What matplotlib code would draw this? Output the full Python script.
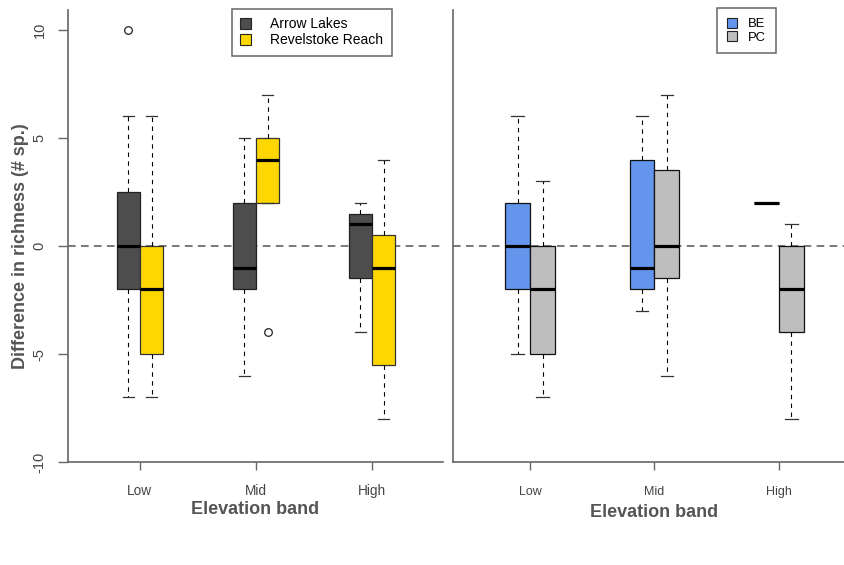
import matplotlib
matplotlib.use("Agg")
import matplotlib.pyplot as plt
from matplotlib.patches import Patch

plt.rcParams['font.family'] = ['Liberation Sans', 'DejaVu Sans']

bands = ["Low", "Mid", "High"]

# five-number summaries per elevation band: whisker low, Q1, median, Q3, whisker high
arrow_lo  = [-7, -6, -4]
arrow_q1  = [-2, -2, -1.5]
arrow_med = [0, -1, 1]
arrow_q3  = [2.5, 2, 1.5]
arrow_hi  = [6, 5, 2]
arrow_out = [[10], [], []]

revel_lo  = [-7, 2, -8]
revel_q1  = [-5, 2, -5.5]
revel_med = [-2, 4, -1]
revel_q3  = [0, 5, 0.5]
revel_hi  = [6, 7, 4]
revel_out = [[], [-4], []]

be_lo  = [-5, -3, 2]
be_q1  = [-2, -2, 2]
be_med = [0, -1, 2]
be_q3  = [2, 4, 2]
be_hi  = [6, 6, 2]
be_out = [[], [], []]

pc_lo  = [-7, -6, -8]
pc_q1  = [-5, -1.5, -4]
pc_med = [-2, 0, -2]
pc_q3  = [0, 3.5, 0]
pc_hi  = [3, 7, 1]
pc_out = [[], [], []]


def stats(lo, q1, med, q3, hi, out):
    return [dict(whislo=lo[i], q1=q1[i], med=med[i], q3=q3[i], whishi=hi[i],
                 fliers=out[i]) for i in range(len(med))]


def draw(ax, st, pos, fill, edge):
    ax.bxp(st, positions=pos, widths=0.2, patch_artist=True, manage_ticks=False,
           boxprops=dict(facecolor=fill, edgecolor=edge, linewidth=0.9),
           medianprops=dict(color="black", linewidth=2.3, solid_capstyle="butt"),
           whiskerprops=dict(color="black", linewidth=0.8, linestyle=(0, (4, 4))),
           capprops=dict(color="#333333", linewidth=0.9),
           capwidths=0.1,
           flierprops=dict(marker="o", markerfacecolor="none", markeredgecolor="#222222",
                           markersize=5.5, markeredgewidth=0.9))


fig = plt.figure(figsize=(8.45, 5.65), dpi=100)
ax1 = fig.add_axes([68 / 845, 1 - 462 / 565, (443 - 68) / 845, 452 / 565])
ax2 = fig.add_axes([453 / 845, 1 - 462 / 565, (855 - 453) / 845, 452 / 565])

x = [1, 2, 3]
draw(ax1, stats(arrow_lo, arrow_q1, arrow_med, arrow_q3, arrow_hi, arrow_out),
     [v - 0.1 for v in x], "#4d4d4d", "#222222")
draw(ax1, stats(revel_lo, revel_q1, revel_med, revel_q3, revel_hi, revel_out),
     [v + 0.1 for v in x], "#ffd700", "#333333")
draw(ax2, stats(be_lo, be_q1, be_med, be_q3, be_hi, be_out),
     [v - 0.1 for v in x], "#6495ed", "#111111")
draw(ax2, stats(pc_lo, pc_q1, pc_med, pc_q3, pc_hi, pc_out),
     [v + 0.1 for v in x], "#bebebe", "#111111")

axcol = "#666666"
for ax, fs, tp, lp in [(ax1, 9.8, 10, 2), (ax2, 9, 11, 4.5)]:
    ax.axhline(0, color="#555555", linewidth=1.1, linestyle=(0, (5, 3.5)), zorder=0)
    ax.set_xlim(0.38, 3.612)
    ax.set_ylim(-10, 10.93)
    ax.spines["top"].set_visible(False)
    ax.spines["right"].set_visible(False)
    ax.spines["left"].set_color(axcol)
    ax.spines["bottom"].set_color(axcol)
    ax.spines["left"].set_linewidth(1.2)
    ax.spines["bottom"].set_linewidth(1.2)
    ax.set_xticks(x)
    ax.set_xticklabels(bands, fontsize=fs, color="#444444")
    ax.tick_params(axis="x", length=6, width=1, color=axcol, pad=tp)
    ax.set_xlabel("Elevation band", fontsize=13, fontweight="bold", color="#555555",
                  labelpad=lp)

ax1.set_yticks([-10, -5, 0, 5, 10])
ax1.set_yticklabels(["-10", "-5", "0", "5", "10"], fontsize=10.5, color="#444444",
                    rotation=90, va="center")
ax1.tick_params(axis="y", length=7.5, width=1, color=axcol, pad=8)
ax1.set_ylabel("Difference in richness (# sp.)", fontsize=13, fontweight="bold",
               color="#555555")
ax1.yaxis.set_label_coords(-0.104, 0.478)
ax2.set_yticks([])

h1 = [Patch(facecolor="#4d4d4d", edgecolor="#222222", linewidth=0.8),
      Patch(facecolor="#ffd700", edgecolor="#222222", linewidth=0.8)]
leg1 = fig.legend(h1, ["Arrow Lakes", "Revelstoke Reach"], loc="upper left",
                  bbox_to_anchor=(232 / 845, 1 - 9 / 565), fontsize=10,
                  fancybox=False, edgecolor="#666666", framealpha=1,
                  handlelength=0.8, handleheight=0.8, handletextpad=1.37,
                  borderpad=0.6, labelspacing=0.15, borderaxespad=0)
leg1.get_frame().set_linewidth(1.1)

h2 = [Patch(facecolor="#6495ed", edgecolor="#222222", linewidth=0.8),
      Patch(facecolor="#bebebe", edgecolor="#222222", linewidth=0.8)]
leg2 = fig.legend(h2, ["BE", "PC"], loc="upper left",
                  bbox_to_anchor=(717 / 845, 1 - 8 / 565), fontsize=9.4,
                  fancybox=False, edgecolor="#666666", framealpha=1,
                  handlelength=0.77, handleheight=0.77, handletextpad=0.85,
                  borderpad=0.75, labelspacing=0.08, borderaxespad=0)
leg2.get_frame().set_linewidth(1.1)

fig.savefig("out.png", dpi=100)
plt.close(fig)
